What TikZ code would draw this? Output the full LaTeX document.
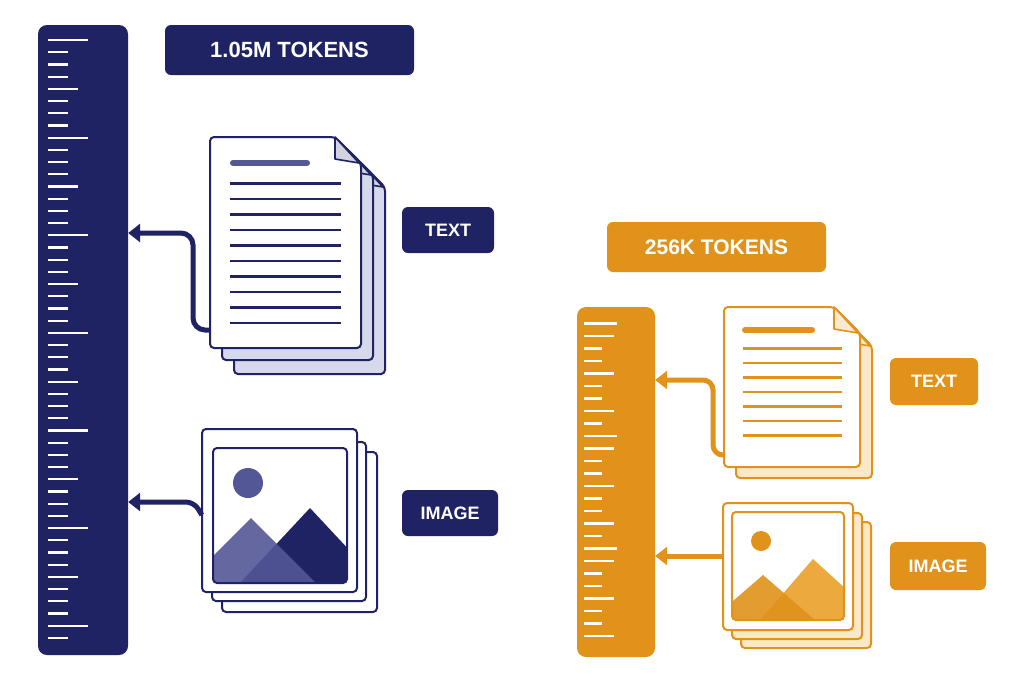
\documentclass[tikz,border=0pt]{standalone}
\usepackage{fontspec}
\setmainfont{Liberation Sans}
\usetikzlibrary{arrows.meta, positioning}
\definecolor{navy}{RGB}{31, 35, 99}
\definecolor{navylight}{RGB}{84, 87, 150}
\definecolor{navypale}{RGB}{214, 216, 235}
\definecolor{amber}{RGB}{224, 146, 26}
\definecolor{amberlight}{RGB}{236, 170, 62}
\definecolor{amberpale}{RGB}{250, 232, 200}

% page with folded corner: x, y, width, height, colour, fill
\newcommand{\docpage}[6]{%
  \draw[#5, line width=2pt, fill=#6, rounded corners=4pt]
    (#1,#2) -- ({#1+#3-26},#2) -- ({#1+#3},{#2+26}) -- ({#1+#3},{#2+#4}) -- (#1,{#2+#4}) -- cycle;
  \draw[#5, line width=1.6pt, fill=#5!20, line join=round]
    ({#1+#3-26},#2) -- ({#1+#3-26},{#2+22}) -- ({#1+#3-2},{#2+26}) -- cycle;
}

\begin{document}
\begin{tikzpicture}[
    x=1pt, y=-1pt,
    tag/.style={rectangle, rounded corners=6pt, text=white, font=\bfseries, inner sep=0pt},
    ruler/.style={rectangle, rounded corners=9pt, inner sep=0pt},
    frame/.style={line width=2pt, rounded corners=4pt},
    tick/.style={white, line width=2.2pt},
    arrow/.style={-{Triangle[length=12pt, width=18pt]}, line width=5pt, rounded corners=12pt}
]
\useasboundingbox[fill=white] (0,0) rectangle (1024,683);

% Left ruler
\node[ruler, fill=navy, minimum width=90pt, minimum height=630pt] (rulerL) at (83,340) {};
\foreach \i in {0,...,49} {
  \pgfmathsetmacro{\len}{ifthenelse(mod(\i,8)==0,40,ifthenelse(mod(\i,4)==0,30,20))}
  \draw[tick] (48,{40+12.2*\i}) -- ++(\len,0);
}

\node[tag, fill=navy, minimum width=249pt, minimum height=50pt, font=\fontsize{22}{24}\selectfont\bfseries] (labelL) at (289.5,50) {1.05M TOKENS};

% Left document stack
\docpage{234}{161}{151}{213}{navy}{navypale}
\docpage{222}{149}{151}{211}{navy}{navypale}
\docpage{210}{137}{151}{211}{navy}{white}
\node[inner sep=0pt, minimum width=151pt, minimum height=211pt] (docL) at (285.5,242.5) {};
\draw[navylight, line width=6pt, line cap=round] (233,163) -- (307,163);
\foreach \k in {0,...,9}
  \draw[navy, line width=2.6pt] (230,{183.5+15.5*\k}) -- (341,{183.5+15.5*\k});
\node[tag, fill=navy, minimum width=92pt, minimum height=46pt, font=\fontsize{18}{20}\selectfont\bfseries] (textL) at (448,230) {TEXT};
\coordinate (docLout) at (docL.west |- 0,330);
\draw[arrow, navy] (docLout) -- (193,330) -- (193,233) -- (rulerL.east |- 0,233);

% Left image stack
\draw[frame, navy, fill=white] (222,452) rectangle (377,612);
\draw[frame, navy, fill=white] (212,442) rectangle (366,601);
\draw[frame, navy, fill=white] (202,429) rectangle (357,592);
\node[inner sep=0pt, minimum width=155pt, minimum height=163pt] (imgL) at (279.5,510.5) {};
\begin{scope}
  \clip[rounded corners=4pt] (213,448) rectangle (347,583);
  \fill[navy] (310,508) -- (380,583) -- (240,583) -- cycle;
  \fill[navylight, opacity=0.9] (251,518) -- (316,583) -- (186,583) -- cycle;
\end{scope}
\draw[frame, navy] (213,448) rectangle (347,583);
\fill[navylight] (248,483) circle (15);
\node[tag, fill=navy, minimum width=96pt, minimum height=46pt, font=\fontsize{18}{20}\selectfont\bfseries] (imageL) at (450,513) {IMAGE};
\coordinate (imgLout) at (imgL.west |- 0,515);
\draw[arrow, navy, rounded corners=8pt] (imgLout) -- (194,502) -- (rulerL.east |- 0,502);

% Right ruler
\node[ruler, fill=amber, minimum width=78pt, minimum height=350pt] (rulerR) at (616,482) {};
\foreach \i in {0,...,25} {
  \pgfmathsetmacro{\len}{ifthenelse(mod(\i,9)==0,33,ifthenelse(mod(\i,3)==1,30,18))}
  \draw[tick] (584,{323.5+12.5*\i}) -- ++(\len,0);
}
\node[tag, fill=amber, minimum width=219pt, minimum height=50pt, font=\fontsize{21}{24}\selectfont\bfseries] (labelR) at (716.5,247) {256K TOKENS};

% Right document stack
\docpage{736}{320}{136}{158}{amber}{amberpale}
\docpage{724}{307}{136}{160}{amber}{white}
\node[inner sep=0pt, minimum width=136pt, minimum height=160pt] (docR) at (792,387) {};
\draw[amber, line width=6pt, line cap=round] (745,330) -- (812,330);
\foreach \k in {0,...,6}
  \draw[amber, line width=2.6pt] (743,{348.5+14.5*\k}) -- (842,{348.5+14.5*\k});
\node[tag, fill=amber, minimum width=88pt, minimum height=47pt, font=\fontsize{18}{20}\selectfont\bfseries] (textR) at (934,381.5) {TEXT};
\coordinate (docRout) at (docR.west |- 0,455);
\draw[arrow, amber, rounded corners=10pt] (docRout) -- (713,455) -- (713,380) -- (rulerR.east |- 0,380);

% Right image stack
\draw[frame, amber, fill=amberpale] (741,522) rectangle (871,648);
\draw[frame, amber, fill=amberpale] (732,513) rectangle (862,639);
\draw[frame, amber, fill=white] (723,503) rectangle (853,630);
\node[inner sep=0pt, minimum width=130pt, minimum height=127pt] (imgR) at (788,566.5) {};
\begin{scope}
  \clip[rounded corners=4pt] (732,512) rectangle (844,620);
  \fill[amberlight] (813,559) -- (880,620) -- (760,620) -- cycle;
  \fill[amber, opacity=0.9] (763,575) -- (815,620) -- (711,620) -- cycle;
\end{scope}
\draw[frame, amber] (732,512) rectangle (844,620);
\fill[amber] (761,541) circle (10);
\node[tag, fill=amber, minimum width=96pt, minimum height=48pt, font=\fontsize{18}{20}\selectfont\bfseries] (imageR) at (938,566) {IMAGE};
\draw[arrow, amber] (imgR.west |- 0,556) -- (rulerR.east |- 0,556);
\end{tikzpicture}
\end{document}
